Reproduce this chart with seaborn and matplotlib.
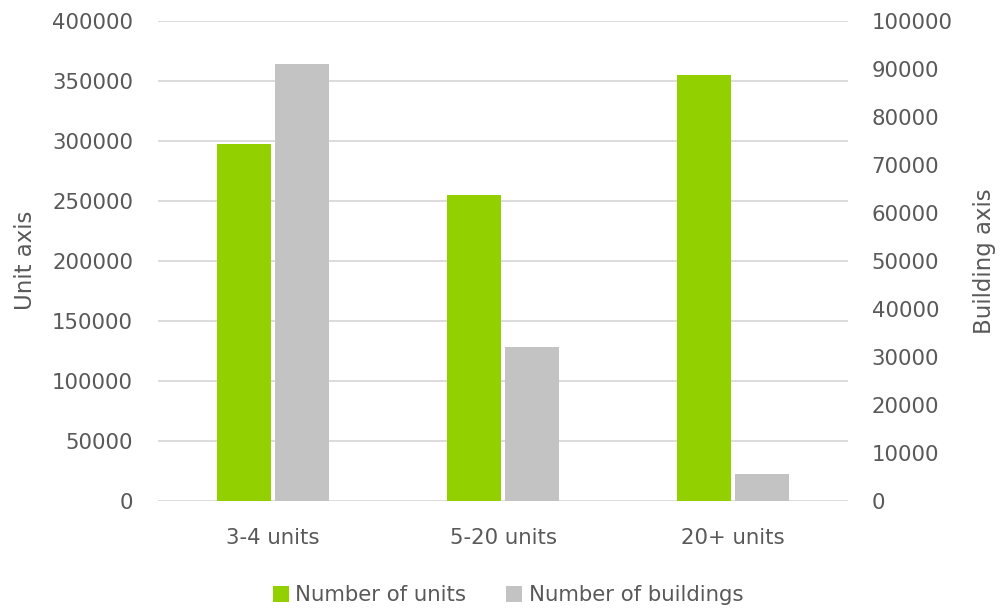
import matplotlib
matplotlib.use("Agg")
import matplotlib.pyplot as plt
import seaborn as sns
import pandas as pd
import numpy as np
from matplotlib.patches import Patch

categories = ["3-4 units", "5-20 units", "20+ units"]
number_of_units = [297000, 255000, 355000]
number_of_buildings = [91000, 32000, 5500]
series_names = ["Number of units", "Number of buildings"]

GREEN = "#92D000"
GREY = "#C3C3C3"
TEXT = "#595959"
GRID = "#D9D9D9"

sns.set_theme(style="white")
plt.rcParams["font.family"] = ["DejaVu Sans"]

df_units = pd.DataFrame({"cat": categories, "value": number_of_units, "series": series_names[0]})
df_bld = pd.DataFrame({"cat": categories, "value": number_of_buildings, "series": series_names[1]})
# Each axis draws only its own series but keeps both hue levels so dodging matches
df1 = pd.concat([df_units, df_bld.assign(value=np.nan)], ignore_index=True)
df2 = pd.concat([df_units.assign(value=np.nan), df_bld], ignore_index=True)

fig = plt.figure(figsize=(10.08, 6.08), dpi=100)
ax1 = fig.add_axes([158 / 1008, 1 - 500.7 / 608, 690 / 1008, 480 / 608])
ax2 = ax1.twinx()

palette = {series_names[0]: GREEN, series_names[1]: GREY}
common = dict(x="cat", y="value", hue="series", hue_order=series_names,
              order=categories, palette=palette, width=0.5, gap=0.06,
              dodge=True, legend=False, saturation=1, errorbar=None,
              linewidth=0, edgecolor="none")
sns.barplot(data=df1, ax=ax1, **common)
sns.barplot(data=df2, ax=ax2, **common)

ax1.set_ylim(0, 400000)
ax2.set_ylim(0, 100000)
ax1.set_yticks(np.arange(0, 400001, 50000))
ax2.set_yticks(np.arange(0, 100001, 10000))
ax1.set_xlim(-0.5, 2.5)

ax1.set_zorder(ax2.get_zorder() - 1)
ax2.patch.set_visible(False)
ax1.yaxis.grid(True, color=GRID, linewidth=1.3)
ax1.set_axisbelow(True)
ax2.grid(False)

FS = 15.3
for ax in (ax1, ax2):
    for s in ax.spines.values():
        s.set_visible(False)
    ax.tick_params(axis="both", length=0, labelsize=FS, colors=TEXT)
    ax.set_xlabel("")

ax1.tick_params(axis="y", pad=18)
ax2.tick_params(axis="y", pad=17)
ax1.tick_params(axis="x", pad=20)
ax2.tick_params(axis="x", bottom=False, labelbottom=False)

ax1.set_ylabel("Unit axis", fontsize=16.5, color=TEXT)
ax2.set_ylabel("Building axis", fontsize=16.5, color=TEXT)
ax1.yaxis.set_label_coords(-0.176, 0.5)
ax2.yaxis.set_label_coords(1.181, 0.5)

handles = [Patch(facecolor=GREEN, edgecolor="none"), Patch(facecolor=GREY, edgecolor="none")]
leg = fig.legend(handles, series_names, loc="center", bbox_to_anchor=(0.504, 0.021),
                 ncol=2, frameon=False, fontsize=FS, handlelength=0.75, handleheight=0.75,
                 handletextpad=0.3, columnspacing=1.9)
for t in leg.get_texts():
    t.set_color(TEXT)

fig.savefig("out.png", dpi=100)
